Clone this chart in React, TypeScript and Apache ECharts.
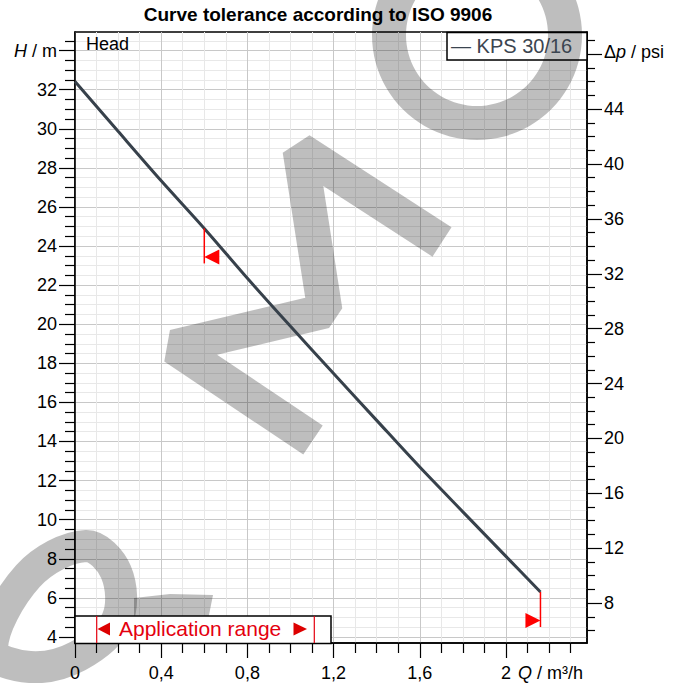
import React, { useEffect, useRef } from 'react';
import * as echarts from 'echarts';

// ---- data ----
const flowQ = [0, 0.2, 0.4, 0.6, 0.8, 1.0, 1.2, 1.4, 1.6, 1.8, 2.0, 2.16];
const headH = [32.42, 29.87, 27.34, 24.9, 22.35, 19.89, 17.48, 15.08, 12.69, 10.4, 8.12, 6.3];
const tolQ = [0.6, 2.16];
const tolH = [24.9, 6.3];
const tolDir = [-1, 1];
const xTicks = [0, 0.4, 0.8, 1.2, 1.6, 2.0];
const yTicks = [4, 6, 8, 10, 12, 14, 16, 18, 20, 22, 24, 26, 28, 30, 32, 34];
const psiTicks = [8, 12, 16, 20, 24, 28, 32, 36, 40, 44, 48];

const FONT = 'Liberation Sans, Arial, sans-serif';
const WM = 'rgba(0,0,0,0.255)';

export default function App() {
  const ref = useRef<HTMLDivElement>(null);
  useEffect(() => {
    if (!ref.current) return;
    const chart = echarts.init(ref.current, null, { renderer: 'svg' });
    const tickStyle = { color: '#000', width: 1.2 };
    const labelBase = { fontSize: 18, color: '#000', fontFamily: FONT };
    const option: any = {
      animation: false,
      grid: { left: 75, right: 91, top: 32, bottom: 40, show: true, borderColor: '#000', borderWidth: 1.5 },
      xAxis: {
        type: 'value', min: 0, max: 2.376, splitNumber: 6, minInterval: 0.4, maxInterval: 0.4,
        axisLine: { show: true, onZero: false, lineStyle: { color: '#000', width: 1.5 } },
        axisTick: { show: true, length: 15, customValues: xTicks, lineStyle: tickStyle },
        minorTick: { show: true, splitNumber: 4, length: 10, lineStyle: tickStyle },
        axisLabel: { ...labelBase, customValues: xTicks, margin: 21, formatter: (v: number) => String(v).replace('.', ',') },
        splitLine: { show: true, lineStyle: { color: '#c8c8c8', width: 1 } },
        minorSplitLine: { show: true, lineStyle: { color: '#e8e8e8', width: 1 } },
      },
      yAxis: [
        {
          type: 'value', position: 'left', min: 3.69, max: 34.95, splitNumber: 15, minInterval: 2, maxInterval: 2,
          axisLine: { show: true, onZero: false, lineStyle: { color: '#000', width: 1.5 } },
          axisTick: { show: true, length: 16, customValues: yTicks, lineStyle: tickStyle },
          minorTick: { show: true, splitNumber: 4, length: 10, lineStyle: tickStyle },
          axisLabel: {
            ...labelBase, customValues: yTicks, margin: 18,
            formatter: (v: number) => (v === 34 ? '{i|H} / m' : String(v)),
            rich: { i: { ...labelBase, fontStyle: 'italic' } },
          },
          splitLine: { show: true, lineStyle: { color: '#c8c8c8', width: 1 } },
          minorSplitLine: { show: true, lineStyle: { color: '#e8e8e8', width: 1 } },
        },
        {
          type: 'value', position: 'right', min: 5.09, max: 49.62, splitNumber: 11, minInterval: 4, maxInterval: 4,
          axisLine: { show: true, onZero: false, lineStyle: { color: '#000', width: 1.5 } },
          axisTick: { show: true, length: 15, customValues: psiTicks, lineStyle: tickStyle },
          minorTick: { show: true, splitNumber: 4, length: 8, lineStyle: tickStyle },
          axisLabel: {
            ...labelBase, customValues: psiTicks, margin: 17,
            formatter: (v: number) => (v === 48 ? '{n|Δ}{i|p}{n| / psi}' : String(v)),
            rich: {
              n: { ...labelBase, padding: [0, 0, 4, 0] },
              i: { ...labelBase, fontStyle: 'italic', padding: [0, 0, 4, 0] },
            },
          },
          splitLine: { show: false },
          minorSplitLine: { show: false },
        },
      ],
      series: [
        {
          name: 'KPS 30/16', type: 'line', z: 3, showSymbol: false, symbol: 'none', smooth: 0.3,
          lineStyle: { color: '#37414b', width: 3 },
          data: flowQ.map((q, i) => [q, headH[i]]),
        },
        {
          type: 'custom', z: 4, clip: false,
          data: tolQ.map((q, i) => [q, tolH[i], tolDir[i]]),
          renderItem: (params: any, api: any) => {
            const p = api.coord([api.value(0), api.value(1)]);
            const d = api.value(2);
            const x = p[0], y = p[1];
            return {
              type: 'group',
              children: [
                { type: 'line', shape: { x1: x, y1: y, x2: x, y2: y + 35 }, style: { stroke: '#ff0000', lineWidth: 1.5 } },
                { type: 'polygon', shape: { points: [[x, y + 28.5], [x - d * 15, y + 21], [x - d * 15, y + 36]] }, style: { fill: '#ff0000' } },
              ],
            };
          },
        },
      ],
      graphic: [
        { type: 'text', x: 318, y: 14, z: 5, style: { text: 'Curve tolerance according to ISO 9906', font: `bold 19px ${FONT}`, fill: '#000', textAlign: 'center', textVerticalAlign: 'middle' } },
        { type: 'text', x: 86, y: 44, z: 5, style: { text: 'Head', font: `18px ${FONT}`, fill: '#000', textAlign: 'left', textVerticalAlign: 'middle' } },
        { type: 'rect', z: 1, shape: { x: 447, y: 32.5, width: 140, height: 27.5 }, style: { fill: '#fff', stroke: '#000', lineWidth: 1.5 } },
        { type: 'text', x: 451, y: 45.5, z: 5, style: { text: '— KPS 30/16', font: `20px ${FONT}`, fill: '#3b4550', textAlign: 'left', textVerticalAlign: 'middle' } },
        {
          type: 'text', x: 518, y: 673, z: 5,
          style: { text: '{i|Q} / m³/h', font: `18px ${FONT}`, fill: '#000', textAlign: 'left', textVerticalAlign: 'middle', rich: { i: { fontStyle: 'italic', fontSize: 18, fontFamily: FONT, fill: '#000' } } },
        },
        // watermark
        { type: 'ring', z: 2, shape: { cx: 477, cy: 35, r: 105, r0: 71 }, style: { fill: WM } },
        { type: 'polyline', z: 2, shape: { points: [[313, 440], [174, 347], [325, 311], [300, 150], [442, 242]] }, style: { stroke: WM, lineWidth: 35, lineJoin: 'bevel', fill: null } },
        { type: 'polygon', z: 2, shape: { smooth: 0.35, points: [[-8, 650], [28, 576], [86, 546], [116, 572], [117, 620], [78, 656], [30, 667]] }, style: { stroke: WM, lineWidth: 32, fill: null } },
        { type: 'polygon', z: 2, shape: { points: [[134, 598], [170, 594], [213, 595], [205, 635], [134, 635]] }, style: { fill: WM } },
        // application range box
        { type: 'rect', z: 6, shape: { x: 75, y: 616, width: 256, height: 27.5 }, style: { fill: '#fff', stroke: '#000', lineWidth: 1.5 } },
        { type: 'line', z: 7, shape: { x1: 96.7, y1: 616, x2: 96.7, y2: 643 }, style: { stroke: '#e4000f', lineWidth: 1.2 } },
        { type: 'line', z: 7, shape: { x1: 314.3, y1: 616, x2: 314.3, y2: 643 }, style: { stroke: '#e4000f', lineWidth: 1.2 } },
        { type: 'polygon', z: 7, shape: { points: [[97.5, 629], [110, 622.5], [110, 635.5]] }, style: { fill: '#dd0000' } },
        { type: 'polygon', z: 7, shape: { points: [[307, 629], [293.5, 622.5], [293.5, 635.5]] }, style: { fill: '#dd0000' } },
        { type: 'text', x: 119, y: 628, z: 7, style: { text: 'Application range', font: `21px ${FONT}`, fill: '#e4000f', textAlign: 'left', textVerticalAlign: 'middle' } },
      ],
    };
    chart.setOption(option);
    return () => chart.dispose();
  }, []);
  return <div ref={ref} style={{ position: 'absolute', left: 0, top: 0, width: 678, height: 683 }} />;
}
